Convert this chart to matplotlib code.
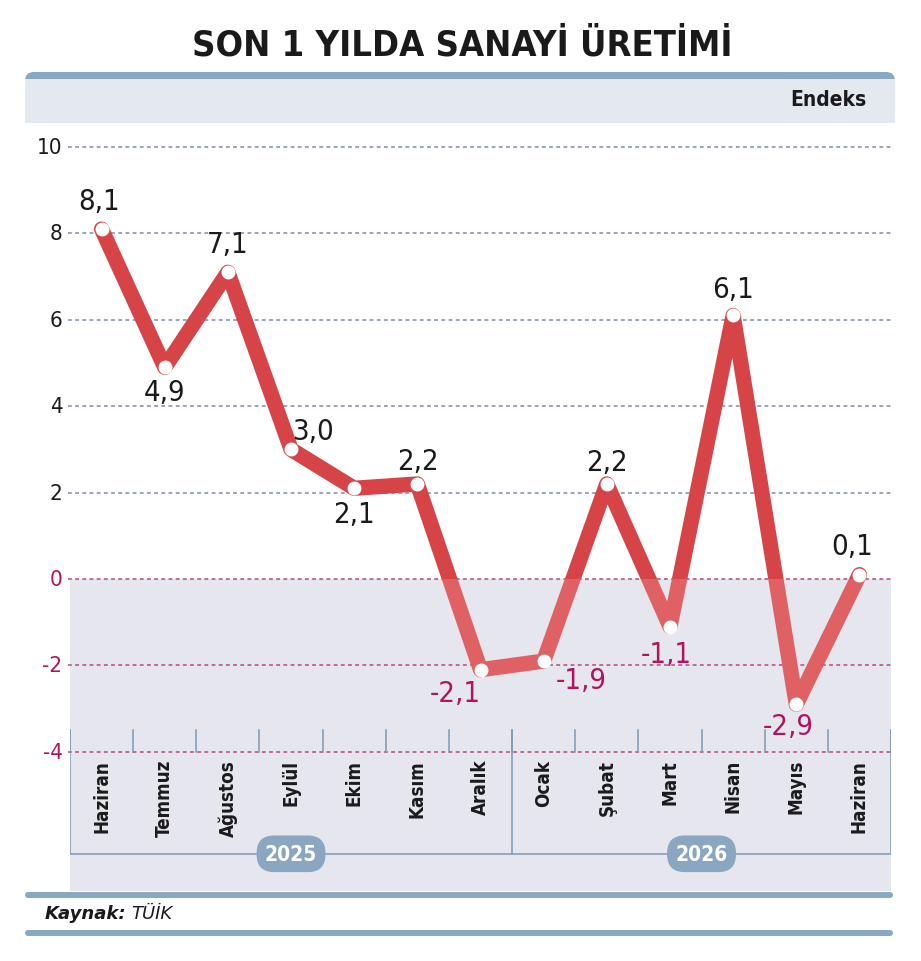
import numpy as np
import matplotlib
matplotlib.use("Agg")
from matplotlib import pyplot as plt
from matplotlib.patches import Rectangle, FancyBboxPatch

plt.rcParams['font.family'] = ['DejaVu Sans']
plt.rcParams['font.stretch'] = 'condensed'

# data
months = ["Haziran", "Temmuz", "Ağustos", "Eylül", "Ekim", "Kasım", "Aralık",
          "Ocak", "Şubat", "Mart", "Nisan", "Mayıs", "Haziran"]
values = [8.1, 4.9, 7.1, 3.0, 2.1, 2.2, -2.1, -1.9, 2.2, -1.1, 6.1, -2.9, 0.1]
years = ["2025", "2026"]
year_spans = [(0, 6), (7, 12)]
yticks = [10, 8, 6, 4, 2, 0, -2, -4]

# label offsets in pixels (dx, dy)
offsets = [(-3, 28), (0, -25), (0, 28), (22, 18), (0, -26), (1, 23), (-25, -23),
           (38, -19), (0, 22), (-4, -27), (0, 26), (-8, -22), (-7, 29)]

RED = "#d64448"
RED_LIGHT = "#e06164"
MAG = "#b3135e"
SHADE = "#e5e6ee"
BLUE = "#8aa8c4"
GRID_UP = "#7d8ca3"
GRID_DN = "#b5487a"
INK = "#1a1a1a"

W, H = 921, 962
fig = plt.figure(figsize=(W / 100, H / 100), dpi=100)
fig.patch.set_facecolor("white")

# full-figure pixel axes for header / footer
bg = fig.add_axes([0, 0, 1, 1])
bg.set_xlim(0, W)
bg.set_ylim(H, 0)
bg.axis("off")

bg.text(462, 45, "SON 1 YILDA SANAYİ ÜRETİMİ", ha="center", va="center",
        fontsize=26, fontweight="bold", color=INK)
bg.add_patch(FancyBboxPatch((25, 73), 870, 51, boxstyle="round,pad=0,rounding_size=9",
                            facecolor=BLUE, edgecolor="none"))
bg.add_patch(Rectangle((25, 80), 870, 44, facecolor="#e4e8ef", edgecolor="none"))
bg.text(866, 100, "Endeks", ha="right", va="center", fontsize=15,
        fontweight="bold", color=INK)

bg.add_patch(FancyBboxPatch((25, 893), 868, 6, boxstyle="round,pad=0,rounding_size=3",
                            facecolor=BLUE, edgecolor="none"))
bg.add_patch(FancyBboxPatch((25, 931), 868, 6, boxstyle="round,pad=0,rounding_size=3",
                            facecolor=BLUE, edgecolor="none"))
bg.text(45, 914, "Kaynak:", ha="left", va="center", fontsize=13, fontstretch="normal",
        fontweight="bold", style="italic", color=INK)
bg.text(131, 914, "TÜİK", ha="left", va="center", fontsize=13, fontstretch="normal",
        style="italic", color=INK)

# main chart axes
px_per_unit = 43.2
left_px, right_px, top_px, bot_px = 70, 891, 130, 892
y0_px = 580
ytop = (y0_px - top_px) / px_per_unit
ybot = -(bot_px - y0_px) / px_per_unit
ax = fig.add_axes([left_px / W, 1 - bot_px / H, (right_px - left_px) / W, (bot_px - top_px) / H])
ax.set_xlim(-0.5, len(months) - 0.5)
ax.set_ylim(ybot, ytop)
ax.axis("off")
ax.patch.set_alpha(0)

n = len(months)
x = np.arange(n)

# shaded negative area
ax.add_patch(Rectangle((-0.5, ybot), n, -ybot, facecolor=SHADE, edgecolor="none", zorder=0))

# grid lines
for v in yticks:
    col = GRID_UP if v > 0 else GRID_DN
    ax.plot([-0.53, n - 0.5], [v, v], color=col, lw=1.1, ls=(0, (2.5, 2.2)),
            zorder=1, clip_on=False)
    ax.text(-0.62, v, str(v), ha="right", va="center", fontsize=16,
            color=INK if v > 0 else MAG)

# separators and bracket
ymin_tick = min(yticks)
tick_top = ymin_tick + 22 / px_per_unit
bracket_y = ymin_tick - (854 - 752) / px_per_unit
for b in np.arange(-0.5, n, 1.0):
    ax.plot([b, b], [ymin_tick, tick_top], color="#7f9ab5", lw=1.1, zorder=1)
for b in [-0.5, year_spans[0][1] + 0.5, n - 0.5]:
    ax.plot([b, b], [bracket_y, tick_top], color="#7f9ab5", lw=1.1, zorder=1)
ax.plot([-0.5, n - 0.5], [bracket_y, bracket_y], color="#7f9ab5", lw=1.1, zorder=1)

for yr, (a, b) in zip(years, year_spans):
    cx = (a + b) / 2
    ax.text(cx, bracket_y, yr, ha="center", va="center", fontsize=15,
            fontweight="bold", color="white", zorder=4,
            bbox=dict(boxstyle="round,pad=0.4,rounding_size=0.85", facecolor="#8aa6c0",
                      edgecolor="none"))

for i, m in enumerate(months):
    ax.text(i, ymin_tick - 7 / px_per_unit, m, rotation=90, ha="center", va="top",
            fontsize=13.5, fontweight="bold", color=INK)

# line, split in color at zero
pos_clip = Rectangle((-1, 0), n + 2, 20, transform=ax.transData)
neg_clip = Rectangle((-1, -20), n + 2, 20, transform=ax.transData)
for col, clip in [(RED, pos_clip), (RED_LIGHT, neg_clip)]:
    ln, = ax.plot(x, values, color=col, lw=11, solid_joinstyle="round",
                  solid_capstyle="round", zorder=3)
    ln.set_clip_path(clip)
ax.plot(x, values, ls="none", marker="o", ms=9, mfc="white", mec="white",
        zorder=5, clip_on=False)

for i, v in enumerate(values):
    lbl = f"{v:.1f}".replace(".", ",")
    ax.annotate(lbl, (i, v), xytext=offsets[i], textcoords="offset pixels",
                ha="center", va="center", fontsize=21,
                color=INK if v >= 0 else MAG, zorder=6)

fig.savefig("out.png", dpi=100)
